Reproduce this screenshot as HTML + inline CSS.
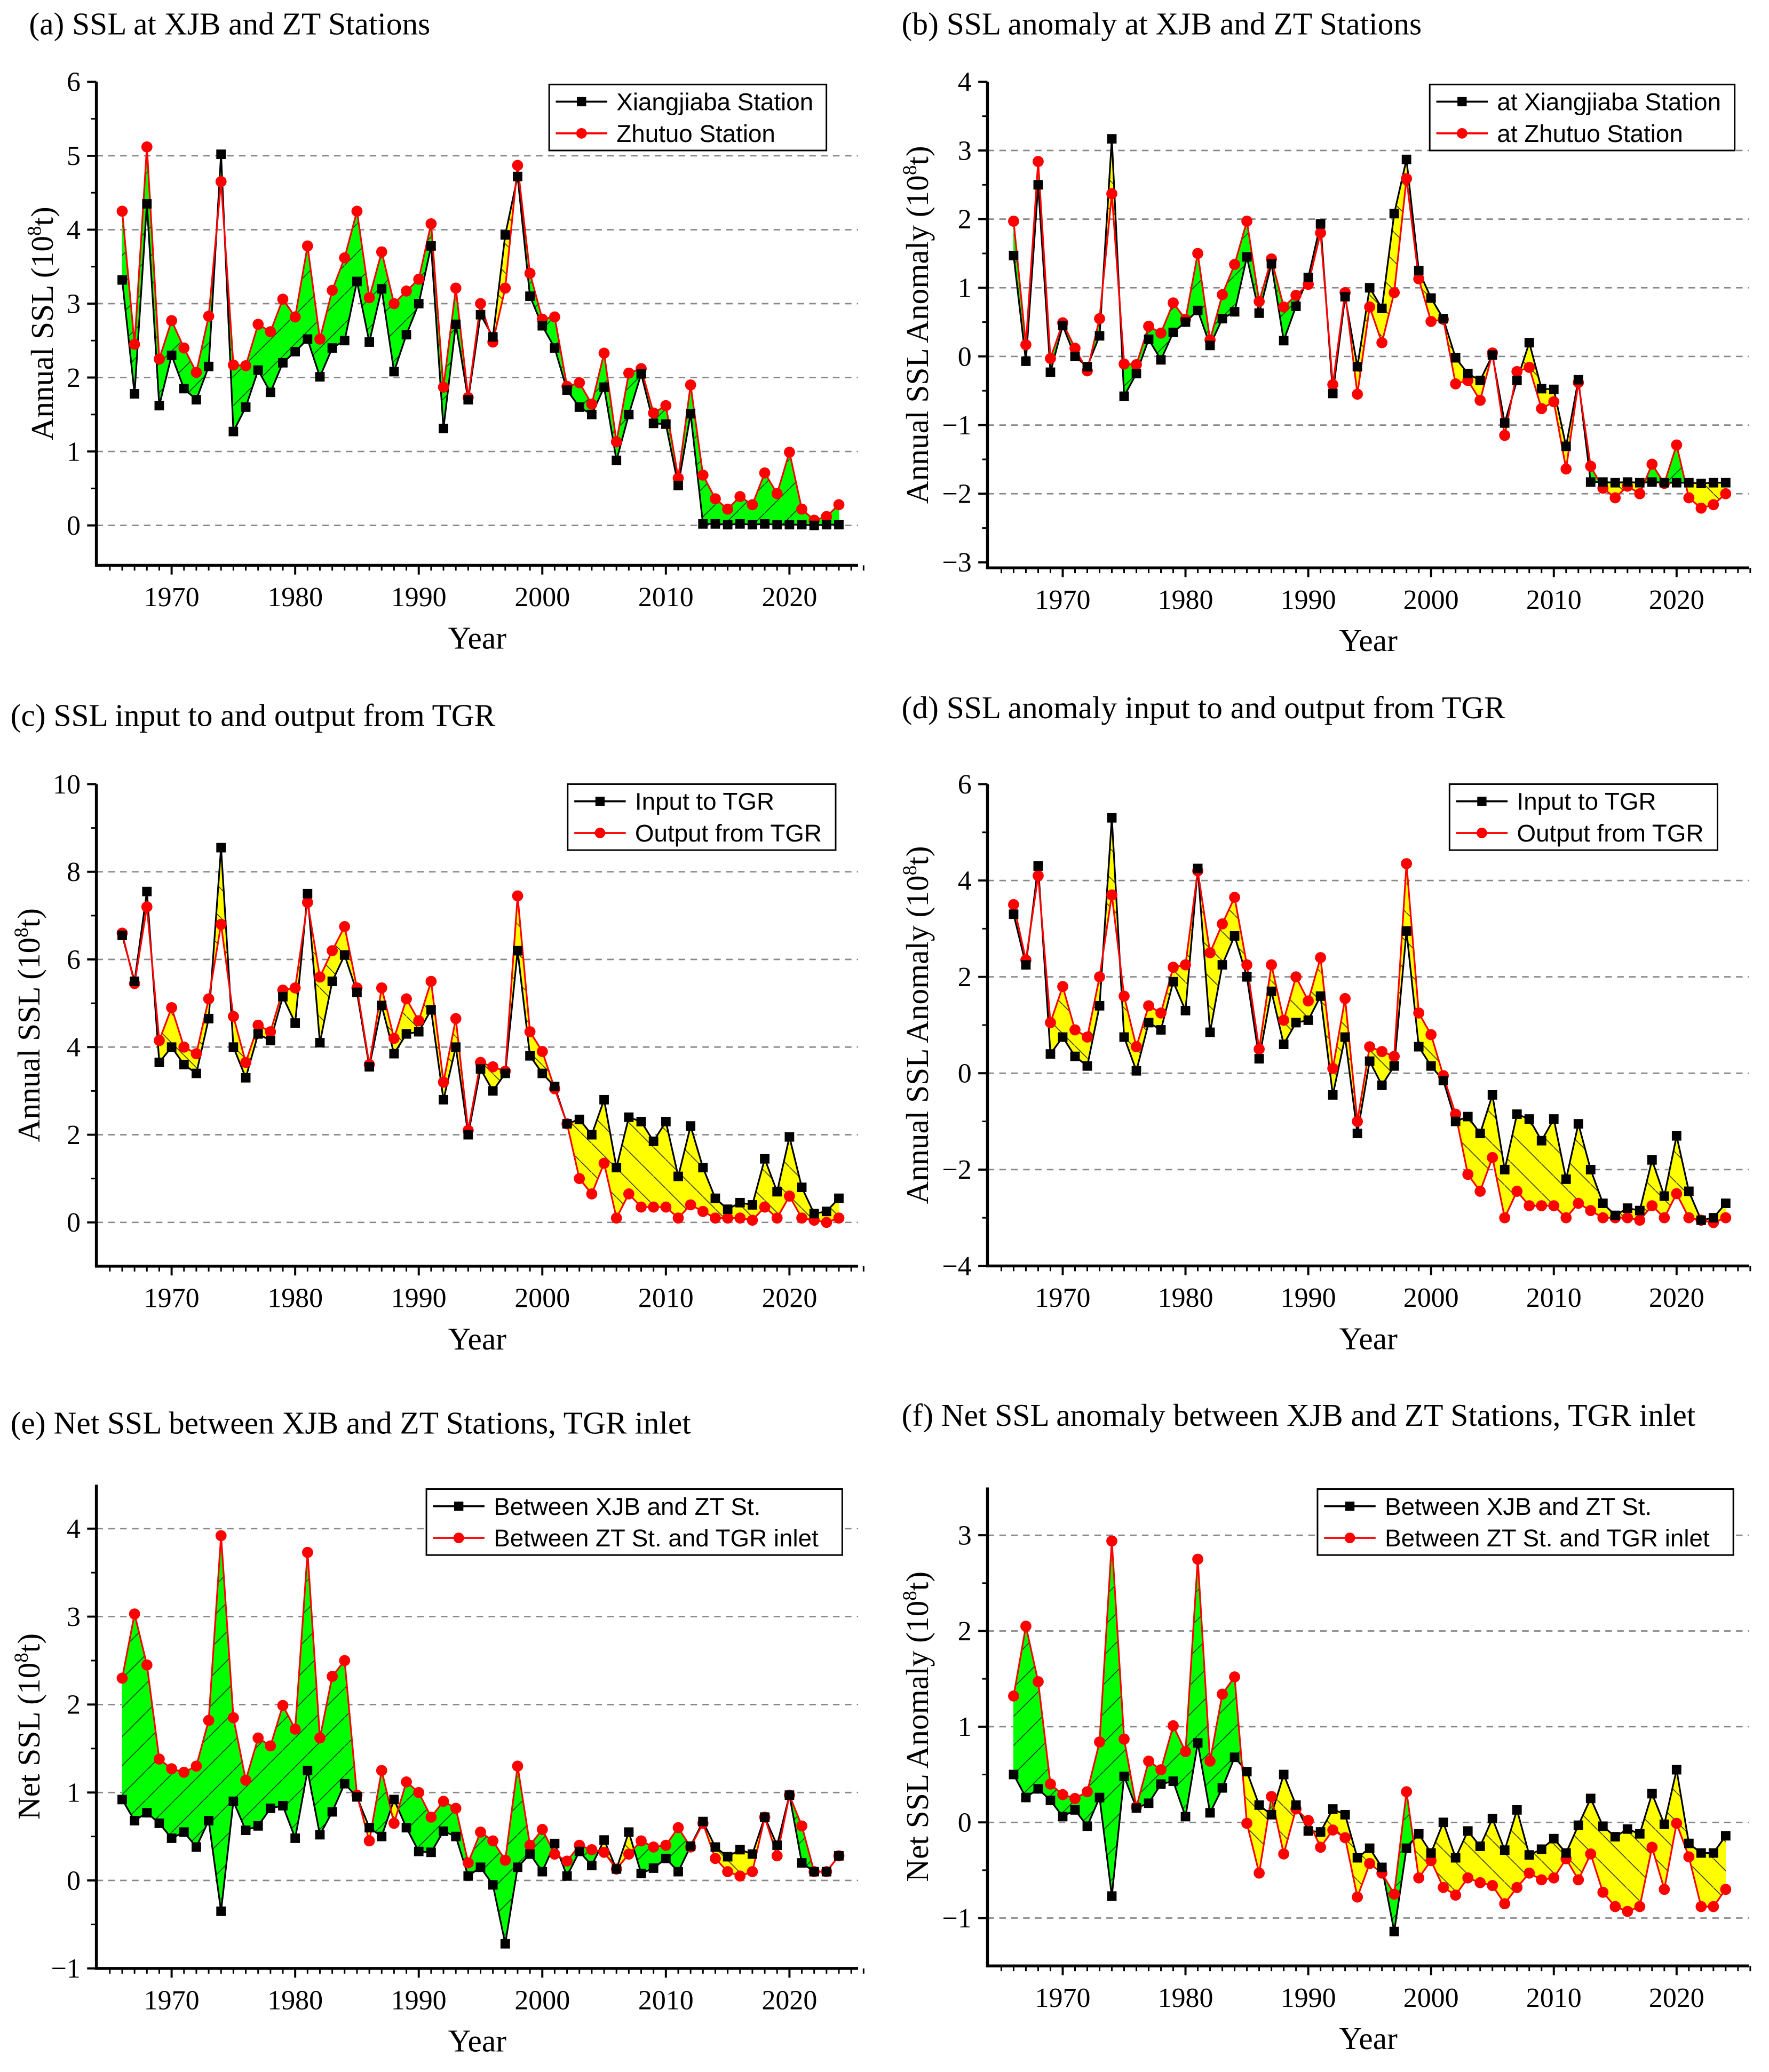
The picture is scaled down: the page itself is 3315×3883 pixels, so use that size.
<!DOCTYPE html>
<html><head><meta charset="utf-8">
<style>
html,body{margin:0;padding:0;background:#fff;}
svg{display:block;}
.serif{font-family:"Liberation Serif",serif;}
.sans{font-family:"Liberation Sans",sans-serif;}
</style></head>
<body>
<svg id="fig" width="3315" height="3883" viewBox="0 0 1340 1569.6" xmlns="http://www.w3.org/2000/svg">
<defs>
<pattern id="hatchG" patternUnits="userSpaceOnUse" width="22" height="22"><path d="M0,22 L22,0" stroke="#222" stroke-width="0.6"/></pattern>
<pattern id="hatchY" patternUnits="userSpaceOnUse" width="22" height="22"><path d="M0,0 L22,22" stroke="#222" stroke-width="0.6"/></pattern>
</defs>
</svg>
<script>
const years = [];
for (let y = 1966; y <= 2024; y++) years.push(y);

const aXJB = [3.32,1.78,4.35,1.62,2.30,1.85,1.70,2.15,5.02,1.27,1.60,2.10,1.80,2.20,2.35,2.52,2.01,2.40,2.50,3.30,2.48,3.20,2.08,2.58,3.00,3.78,1.31,2.72,1.70,2.85,2.55,3.93,4.72,3.10,2.70,2.40,1.83,1.60,1.50,1.87,0.88,1.50,2.05,1.38,1.37,0.54,1.51,0.02,0.02,0.01,0.02,0.01,0.02,0.01,0.01,0.01,0.00,0.01,0.01];
const aZT = [4.25,2.45,5.12,2.25,2.77,2.40,2.07,2.83,4.65,2.17,2.16,2.72,2.62,3.06,2.82,3.78,2.52,3.18,3.62,4.25,3.08,3.70,3.00,3.17,3.33,4.08,1.87,3.21,1.73,3.00,2.48,3.21,4.87,3.41,2.79,2.82,1.88,1.93,1.64,2.33,1.13,2.06,2.12,1.52,1.62,0.64,1.90,0.68,0.36,0.22,0.39,0.28,0.71,0.43,0.99,0.22,0.07,0.12,0.28];
const bXJB = [1.47,-0.07,2.50,-0.23,0.45,0.00,-0.15,0.30,3.17,-0.58,-0.25,0.25,-0.05,0.35,0.50,0.67,0.16,0.55,0.65,1.45,0.63,1.35,0.23,0.73,1.15,1.93,-0.54,0.87,-0.15,1.00,0.70,2.08,2.87,1.25,0.85,0.55,-0.02,-0.25,-0.35,0.02,-0.97,-0.35,0.20,-0.47,-0.48,-1.31,-0.34,-1.83,-1.83,-1.84,-1.83,-1.84,-1.83,-1.84,-1.84,-1.84,-1.85,-1.84,-1.84];
const bZT = [1.97,0.17,2.84,-0.03,0.49,0.12,-0.21,0.55,2.37,-0.11,-0.12,0.44,0.34,0.78,0.54,1.50,0.24,0.90,1.34,1.97,0.80,1.42,0.72,0.89,1.05,1.80,-0.41,0.93,-0.55,0.72,0.20,0.93,2.59,1.13,0.51,0.54,-0.40,-0.35,-0.64,0.05,-1.15,-0.22,-0.16,-0.76,-0.66,-1.64,-0.38,-1.60,-1.92,-2.06,-1.89,-2.00,-1.57,-1.85,-1.29,-2.06,-2.21,-2.16,-2.00];
const cIn = [6.55,5.5,7.55,3.65,4.0,3.6,3.4,4.65,8.55,4.0,3.3,4.3,4.15,5.15,4.55,7.5,4.1,5.5,6.1,5.25,3.55,4.95,3.85,4.3,4.35,4.85,2.8,4.0,2.0,3.5,3.0,3.4,6.2,3.8,3.4,3.1,2.25,2.35,2.0,2.8,1.25,2.4,2.3,1.85,2.3,1.05,2.2,1.25,0.55,0.3,0.45,0.4,1.45,0.7,1.95,0.8,0.2,0.25,0.55];
const cOut = [6.6,5.45,7.2,4.15,4.9,4.0,3.85,5.1,6.8,4.7,3.65,4.5,4.35,5.3,5.35,7.3,5.6,6.2,6.75,5.35,3.6,5.35,4.2,5.1,4.6,5.5,3.2,4.65,2.1,3.65,3.55,3.45,7.45,4.35,3.9,3.05,2.25,1.0,0.65,1.35,0.1,0.65,0.35,0.35,0.35,0.1,0.4,0.25,0.1,0.1,0.1,0.05,0.35,0.1,0.6,0.1,0.05,0.0,0.1];
const dIn = [3.30,2.25,4.30,0.40,0.75,0.35,0.15,1.40,5.30,0.75,0.05,1.05,0.90,1.90,1.30,4.25,0.85,2.25,2.85,2.00,0.30,1.70,0.60,1.05,1.10,1.60,-0.45,0.75,-1.25,0.25,-0.25,0.15,2.95,0.55,0.15,-0.15,-1.00,-0.90,-1.25,-0.45,-2.00,-0.85,-0.95,-1.40,-0.95,-2.20,-1.05,-2.00,-2.70,-2.95,-2.80,-2.85,-1.80,-2.55,-1.30,-2.45,-3.05,-3.00,-2.70];
const dOut = [3.50,2.35,4.10,1.05,1.80,0.90,0.75,2.00,3.70,1.60,0.55,1.40,1.25,2.20,2.25,4.20,2.50,3.10,3.65,2.25,0.50,2.25,1.10,2.00,1.50,2.40,0.10,1.55,-1.00,0.55,0.45,0.35,4.35,1.25,0.80,-0.05,-0.85,-2.10,-2.45,-1.75,-3.00,-2.45,-2.75,-2.75,-2.75,-3.00,-2.70,-2.85,-3.00,-3.00,-3.00,-3.05,-2.75,-3.00,-2.50,-3.00,-3.05,-3.10,-3.00];
const eXZ = [0.92,0.68,0.77,0.65,0.48,0.55,0.38,0.68,-0.35,0.9,0.57,0.62,0.82,0.85,0.48,1.25,0.52,0.78,1.1,0.95,0.6,0.5,0.92,0.6,0.33,0.32,0.56,0.5,0.05,0.15,-0.05,-0.72,0.15,0.3,0.1,0.42,0.05,0.33,0.17,0.46,0.13,0.55,0.08,0.14,0.25,0.1,0.39,0.67,0.38,0.27,0.35,0.3,0.72,0.4,0.97,0.2,0.1,0.1,0.28];
const eZT = [2.3,3.03,2.45,1.38,1.27,1.23,1.3,1.82,3.92,1.85,1.14,1.62,1.53,1.99,1.72,3.73,1.62,2.32,2.5,0.97,0.45,1.25,0.65,1.12,1.0,0.72,0.9,0.82,0.2,0.55,0.45,0.23,1.3,0.4,0.58,0.3,0.22,0.4,0.35,0.32,0.13,0.3,0.45,0.38,0.4,0.6,0.38,0.65,0.25,0.1,0.05,0.1,0.72,0.28,0.97,0.62,0.1,0.1,0.28];
const fXZ = [0.50,0.26,0.35,0.23,0.06,0.13,-0.04,0.26,-0.77,0.48,0.15,0.20,0.40,0.43,0.06,0.83,0.10,0.36,0.68,0.53,0.18,0.08,0.50,0.18,-0.09,-0.10,0.14,0.08,-0.37,-0.27,-0.47,-1.14,-0.27,-0.12,-0.32,0.00,-0.37,-0.09,-0.25,0.04,-0.29,0.13,-0.34,-0.28,-0.17,-0.32,-0.03,0.25,-0.04,-0.15,-0.07,-0.12,0.30,-0.02,0.55,-0.22,-0.32,-0.32,-0.14];
const fZT = [1.32,2.05,1.47,0.40,0.29,0.25,0.32,0.84,2.94,0.87,0.16,0.64,0.55,1.01,0.74,2.75,0.64,1.34,1.52,-0.01,-0.53,0.27,-0.33,0.14,0.02,-0.26,-0.08,-0.16,-0.78,-0.43,-0.53,-0.75,0.32,-0.58,-0.40,-0.68,-0.76,-0.58,-0.63,-0.66,-0.85,-0.68,-0.53,-0.60,-0.58,-0.38,-0.60,-0.33,-0.73,-0.88,-0.93,-0.88,-0.26,-0.70,-0.01,-0.36,-0.88,-0.88,-0.70];

const xTicks = [1970,1980,1990,2000,2010,2020];
const aTicks = [0,1,2,3,4,5,6];
const bTicks = [-3,-2,-1,0,1,2,3,4];
const cTicks = [0,2,4,6,8,10];
const dTicks = [-4,-2,0,2,4,6];
const eTicks = [-1,0,1,2,3,4];
const fTicks = [-1,0,1,2,3];

const NS = "http://www.w3.org/2000/svg";
const svg = document.getElementById('fig');
function mk(tag, attrs, parent, text) {
  const e = document.createElementNS(NS, tag);
  for (const k in attrs) e.setAttribute(k, attrs[k]);
  if (text !== undefined) e.textContent = text;
  (parent || svg).appendChild(e);
  return e;
}

function panel(cfg) {
  const g = mk('g', {});
  
  
  const X = yr => cfg.x1970 + (yr - 1970) * (cfg.x2020 - cfg.x1970) / 50;
  const Y = v => cfg.yA + (v - cfg.vA) * (cfg.yB - cfg.yA) / (cfg.vB - cfg.vA);
  const top = Y(cfg.vmax), bot = Y(cfg.vmin);
  const t = mk('text', {x: cfg.tx, y: cfg.ty, 'font-size': 24, class: 'serif'}, g, cfg.title);
  
  
  cfg.ticks.forEach(v => {
    if (cfg.grid.includes(v)) {
      const gl = mk('line', {x1: cfg.L, x2: cfg.R, y1: Y(v), y2: Y(v), stroke: '#888', 'stroke-width': 1.1, 'stroke-dasharray': '5,4'}, g);
      
      
    }
  });
  const s1 = cfg.s1, s2 = cfg.s2;
  for (let i = 0; i < years.length - 1; i++) {
    const x0 = X(years[i]), x1 = X(years[i+1]);
    const a0 = s1[i], a1 = s1[i+1], b0 = s2[i], b1 = s2[i+1];
    const d0 = b0 - a0, d1 = b1 - a1;
    const parts = [];
    if (d0 * d1 >= 0) {
      parts.push({pts: [[x0,Y(a0)],[x1,Y(a1)],[x1,Y(b1)],[x0,Y(b0)]], up: (d0 + d1) >= 0});
    } else {
      const f = d0 / (d0 - d1);
      const xc = x0 + f * (x1 - x0), vc = a0 + f * (a1 - a0);
      parts.push({pts: [[x0,Y(a0)],[xc,Y(vc)],[x0,Y(b0)]], up: d0 > 0});
      parts.push({pts: [[xc,Y(vc)],[x1,Y(a1)],[x1,Y(b1)]], up: d1 > 0});
    }
    parts.forEach(p => {
      const col = cfg.allYellow ? '#ffff00' : (p.up ? '#00ff00' : '#ffff00');
      const hatch = (col === '#00ff00') ? 'url(#hatchG)' : 'url(#hatchY)';
      const ps = p.pts.map(q => q.join(',')).join(' ');
      const pg = mk('polygon', {points: ps, fill: col, stroke: col, 'stroke-width': 0.4}, g);
      
      
      const ph = mk('polygon', {points: ps, fill: hatch}, g);
      
      
    });
  }
  const l1 = mk('polyline', {points: years.map((y,i) => X(y)+','+Y(s1[i])).join(' '), fill: 'none', stroke: '#000', 'stroke-width': 1.3}, g);
  
  
  const l2 = mk('polyline', {points: years.map((y,i) => X(y)+','+Y(s2[i])).join(' '), fill: 'none', stroke: '#ff0000', 'stroke-width': 1.3}, g);
  
  
  years.forEach((y,i) => {
    const c = mk('circle', {cx: X(y), cy: Y(s2[i]), r: 4.2, fill: '#ff0000'}, g);
    
    
  });
  years.forEach((y,i) => {
    const r = mk('rect', {x: X(y)-3.6, y: Y(s1[i])-3.6, width: 7.2, height: 7.2, fill: '#000'}, g);
    
    
  });
  const ay = mk('line', {x1: cfg.L, x2: cfg.L, y1: top, y2: bot + 1, stroke: '#000', 'stroke-width': 2.2}, g);
  
  
  const ax = mk('line', {x1: cfg.L - 1, x2: cfg.R, y1: bot, y2: bot, stroke: '#000', 'stroke-width': 2.2}, g);
  
  
  cfg.ticks.forEach(v => {
    mk('line', {x1: cfg.L - 7, x2: cfg.L, y1: Y(v), y2: Y(v), stroke: '#000', 'stroke-width': 1.6}, g);
    const lb = mk('text', {x: cfg.L - 12, y: Y(v) + 7, 'font-size': 21, 'text-anchor': 'end', class: 'serif'}, g, v < 0 ? '\u2212' + Math.abs(v) : String(v));
    
    
  });
  cfg.minor.forEach(v => {
    mk('line', {x1: cfg.L - 4, x2: cfg.L, y1: Y(v), y2: Y(v), stroke: '#000', 'stroke-width': 1.2}, g);
  });
  for (let yr = 1965; yr <= 2026; yr++) {
    const major = yr % 10 === 0;
    mk('line', {x1: X(yr), x2: X(yr), y1: bot, y2: bot + (major ? 7 : 4), stroke: '#000', 'stroke-width': major ? 1.6 : 1.2}, g);
  }
  xTicks.forEach(yr => {
    const lb = mk('text', {x: X(yr), y: bot + 31, 'font-size': 21, 'text-anchor': 'middle', class: 'serif'}, g, String(yr));
    
    
  });
  const xt = mk('text', {x: (cfg.L + cfg.R) / 2, y: bot + 63, 'font-size': 24, 'text-anchor': 'middle', class: 'serif'}, g, 'Year');
  
  
  const ytx = cfg.ytx, yty = (top + bot) / 2;
  const yt = mk('text', {x: ytx, y: yty, 'font-size': 24, 'text-anchor': 'middle', class: 'serif', transform: `rotate(-90 ${ytx} ${yty})`}, g);
  
  
  yt.appendChild(document.createTextNode(cfg.ylab + ' (10'));
  mk('tspan', {dy: -9, 'font-size': 15}, yt, '8');
  mk('tspan', {dy: 9}, yt, 't)');
  const lg = mk('g', {}, g);
  
  
  mk('rect', {x: cfg.lx, y: cfg.ly, width: cfg.lw, height: 50, fill: '#fff', stroke: '#000', 'stroke-width': 1.2}, lg);
  [[cfg.n1, '#000', 'sq'], [cfg.n2, '#ff0000', 'ci']].forEach((e, k) => {
    const yy = cfg.ly + 13 + k * 24;
    const en = mk('g', {}, lg);
    
    
    mk('line', {x1: cfg.lx + 5, x2: cfg.lx + 44, y1: yy, y2: yy, stroke: e[1], 'stroke-width': 1.5}, en);
    if (e[2] === 'sq') mk('rect', {x: cfg.lx + 21, y: yy - 3.5, width: 7, height: 7, fill: '#000'}, en);
    else mk('circle', {cx: cfg.lx + 24.5, cy: yy, r: 4, fill: '#ff0000'}, en);
    mk('text', {x: cfg.lx + 51, y: yy + 6.5, 'font-size': 18.5, class: 'sans'}, en, e[0]);
  });
}

const colL = {L: 73, R: 650, x1970: 130, x2020: 598};
const colR = {L: 748, R: 1325, x1970: 805, x2020: 1270};

panel(Object.assign({}, colL, {id: 'panel-a', title: '(a) SSL at XJB and ZT Stations', tx: 22, ty: 26,
  s1: aXJB, s2: aZT, yA: 398, vA: 0, yB: 62, vB: 6, vmin: -0.54, vmax: 6, ticks: aTicks, grid: [0,1,2,3,4,5],
  minor: [0.5,1.5,2.5,3.5,4.5,5.5], ylab: 'Annual SSL', ytx: 40, lx: 416, ly: 64, lw: 210,
  n1: 'Xiangjiaba Station', n2: 'Zhutuo Station'}));
panel(Object.assign({}, colR, {id: 'panel-b', title: '(b) SSL anomaly at XJB and ZT Stations', tx: 683, ty: 26,
  s1: bXJB, s2: bZT, yA: 270, vA: 0, yB: 62, vB: 4, vmin: -3.08, vmax: 4, ticks: bTicks, grid: [-2,-1,0,1,2,3],
  minor: [-2.5,-1.5,-0.5,0.5,1.5,2.5,3.5], ylab: 'Annual SSL Anomaly', ytx: 703, lx: 1083, ly: 64, lw: 231,
  n1: 'at Xiangjiaba Station', n2: 'at Zhutuo Station'}));
panel(Object.assign({}, colL, {id: 'panel-c', title: '(c) SSL input to and output from TGR', tx: 8, ty: 550,
  s1: cIn, s2: cOut, yA: 926, vA: 0, yB: 594, vB: 10, vmin: -1, vmax: 10, ticks: cTicks, grid: [0,2,4,6,8],
  minor: [1,3,5,7,9], ylab: 'Annual SSL', ytx: 30, lx: 430, ly: 594, lw: 203, allYellow: true,
  n1: 'Input to TGR', n2: 'Output from TGR'}));
panel(Object.assign({}, colR, {id: 'panel-d', title: '(d) SSL anomaly input to and output from TGR', tx: 683, ty: 544,
  s1: dIn, s2: dOut, yA: 813, vA: 0, yB: 594, vB: 6, vmin: -4, vmax: 6, ticks: dTicks, grid: [-2,0,2,4],
  minor: [-3,-1,1,3,5], ylab: 'Annual SSL Anomaly', ytx: 703, lx: 1098, ly: 594, lw: 203, allYellow: true,
  n1: 'Input to TGR', n2: 'Output from TGR'}));
panel(Object.assign({}, colL, {id: 'panel-e', title: '(e) Net SSL between XJB and ZT Stations, TGR inlet', tx: 8, ty: 1086,
  s1: eXZ, s2: eZT, yA: 1424.5, vA: 0, yB: 1158, vB: 4, vmin: -1, vmax: 4.5, ticks: eTicks, grid: [0,1,2,3,4],
  minor: [-0.5,0.5,1.5,2.5,3.5], ylab: 'Net SSL', ytx: 30, lx: 323, ly: 1128, lw: 315,
  n1: 'Between XJB and ZT St.', n2: 'Between ZT St. and TGR inlet'}));
panel(Object.assign({}, colR, {id: 'panel-f', title: '(f) Net SSL anomaly between XJB and ZT Stations, TGR inlet', tx: 683, ty: 1080,
  s1: fXZ, s2: fZT, yA: 1380.5, vA: 0, yB: 1163, vB: 3, vmin: -1.5, vmax: 3.5, ticks: fTicks, grid: [-1,0,1,2,3],
  minor: [-0.5,0.5,1.5,2.5], ylab: 'Net SSL Anomaly', ytx: 703, lx: 998, ly: 1128, lw: 315,
  n1: 'Between XJB and ZT St.', n2: 'Between ZT St. and TGR inlet'}));
</script>
</body></html>
